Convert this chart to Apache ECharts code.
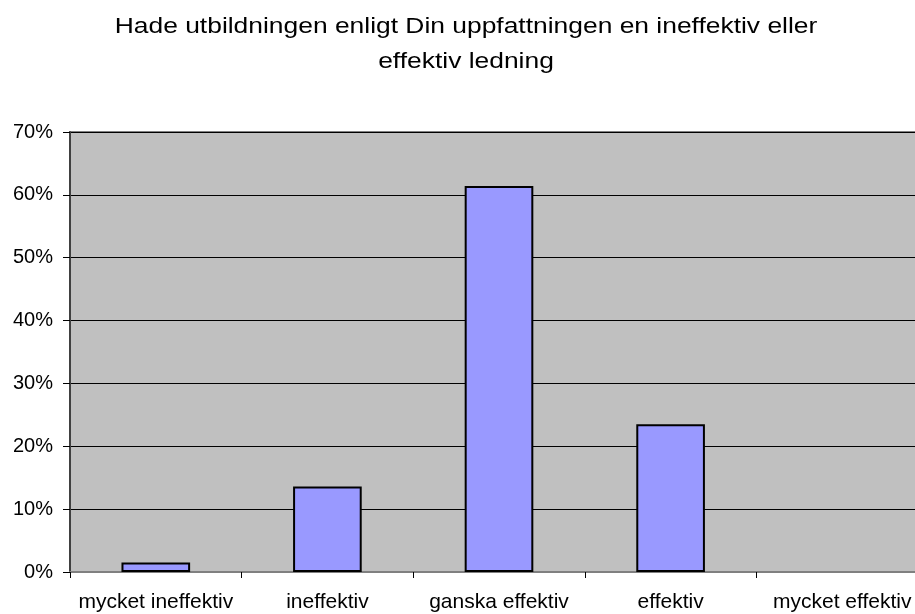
<!DOCTYPE html>
<html>
<head>
<meta charset="utf-8">
<script src="https://cdn.jsdelivr.net/npm/echarts@6/dist/echarts.min.js"></script>
<style>
html,body{margin:0;padding:0;background:#fff;}
#chart{width:915px;height:614px;}
</style>
</head>
<body>
<div id="chart"></div>
<script>
const titleText = "Hade utbildningen enligt Din uppfattningen en ineffektiv eller\neffektiv ledning";
const categories = ["mycket ineffektiv", "ineffektiv", "ganska effektiv", "effektiv", "mycket effektiv"];
const values = [1.5, 13.6, 61.4, 23.5, 0];
const yTicks = [0, 10, 20, 30, 40, 50, 60, 70];

const chart = echarts.init(document.getElementById('chart'), null, {renderer: 'canvas'});
chart.setOption({
  animation: false,
  backgroundColor: '#ffffff',
  graphic: [{
    type: 'text',
    x: 466,
    y: 9,
    scaleX: 1.2,
    style: {
      text: titleText,
      x: 0,
      y: 0,
      align: 'center',
      verticalAlign: 'top',
      font: 'normal 22px "Liberation Sans", Arial, sans-serif',
      lineHeight: 35,
      fill: '#000'
    }
  }],
  grid: {
    left: 70,
    width: 858,
    top: 132,
    bottom: 42,
    show: true,
    backgroundColor: '#C0C0C0',
    borderColor: '#808080',
    borderWidth: 2,
    containLabel: false,
    outerBoundsMode: 'none'
  },
  xAxis: {
    type: 'category',
    data: categories,
    axisLine: {show: true, lineStyle: {color: '#808080', width: 2}},
    axisTick: {show: true, alignWithLabel: false, length: 6, lineStyle: {color: '#000', width: 1}},
    axisLabel: {
      interval: 0,
      margin: 20,
      fontFamily: 'Liberation Sans, Arial, sans-serif',
      fontSize: 21,
      color: '#000'
    },
    splitLine: {show: false}
  },
  yAxis: {
    type: 'value',
    min: yTicks[0],
    max: yTicks[yTicks.length - 1],
    interval: 10,
    axisLine: {show: true, lineStyle: {color: '#404040', width: 2}},
    axisTick: {show: true, length: 7, lineStyle: {color: '#000', width: 1}},
    axisLabel: {
      margin: 17,
      fontFamily: 'Liberation Sans, Arial, sans-serif',
      fontSize: 20,
      color: '#000',
      formatter: v => v + '%'
    },
    splitLine: {show: true, lineStyle: {color: '#000', width: 1}}
  },
  series: [{
    type: 'bar',
    data: values.map(v => ({value: v, itemStyle: {borderWidth: v === 0 ? 0 : 2}})),
    barCategoryGap: '60%',
    itemStyle: {color: '#9999FF', borderColor: '#000', borderWidth: 2}
  }]
});
</script>
</body>
</html>
